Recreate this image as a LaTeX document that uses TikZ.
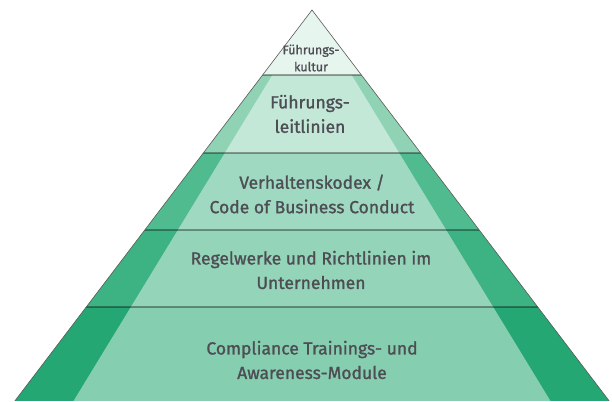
\documentclass[tikz,border=0pt]{standalone}
\usepackage{fontspec}
\setmainfont{Fira Sans}[UprightFeatures={FakeBold=1.2}]

\begin{document}
\begin{tikzpicture}[x=1pt,y=1pt,yscale=-1,xscale=1,
	lbl/.style={color={rgb, 255:red, 77; green, 77; blue, 84 }, align=center, font=\fontsize{17.5}{24.5}\selectfont},
	lblsmall/.style={color={rgb, 255:red, 77; green, 77; blue, 84 }, align=center, font=\fontsize{12.5}{17}\selectfont},
	sepline/.style={draw=black, draw opacity=0.35, line width=1.1pt},
	edgeline/.style={draw={rgb, 255:red, 90; green, 90; blue, 90 }, line width=0.6pt}]
	%set diagram left start at 0 and height of 401
	\useasboundingbox (0,0) rectangle (612,401);
	
	% outer pyramid, dark side bands
	\begin{scope}
		\clip (312,10) -- (14.8,401) -- (609.2,401) -- cycle;
		\fill [color={rgb, 255:red, 230; green, 245; blue, 238 }] (0,0) rectangle (612,75);
		\fill [color={rgb, 255:red, 143; green, 210; blue, 180 }] (0,75) rectangle (612,153);
		\fill [color={rgb, 255:red, 80; green, 187; blue, 143 }] (0,153) rectangle (612,230);
		\fill [color={rgb, 255:red, 61; green, 178; blue, 131 }] (0,230) rectangle (612,307);
		\fill [color={rgb, 255:red, 37; green, 167; blue, 116 }] (0,307) rectangle (612,401);
	\end{scope}
	
	% inner pyramid, light centre
	\begin{scope}
		\clip (312,10) -- (73.5,401) -- (550.5,401) -- cycle;
		\fill [color={rgb, 255:red, 230; green, 245; blue, 238 }] (0,0) rectangle (612,75);
		\fill [color={rgb, 255:red, 195; green, 232; blue, 216 }] (0,75) rectangle (612,153);
		\fill [color={rgb, 255:red, 160; green, 217; blue, 194 }] (0,153) rectangle (612,230);
		\fill [color={rgb, 255:red, 148; green, 212; blue, 185 }] (0,230) rectangle (612,307);
		\fill [color={rgb, 255:red, 134; green, 206; blue, 176 }] (0,307) rectangle (612,401);
	\end{scope}
	
	% layer borders
	\begin{scope}
		\clip (312,10) -- (14.8,401) -- (609.2,401) -- cycle;
		\draw [sepline] (0,75) -- (612,75) ;
		\draw [sepline] (0,153) -- (612,153) ;
		\draw [sepline] (0,230) -- (612,230) ;
		\draw [sepline] (0,307) -- (612,307) ;
	\end{scope}
	\draw [edgeline] (14.8,401) -- (312,10) -- (609.2,401) ;
	
	
	\node [lblsmall] (kultur) at (311,58) {Führungs-\\kultur};
	\node [lbl] (leitlinien) at (310,114) {Führungs-\\leitlinien};
	\node [lbl] (kodex) at (312,194) {Verhaltenskodex /\\Code of Business Conduct};
	\node [lbl] (regelwerke) at (311,270) {Regelwerke und Richtlinien im\\Unternehmen};
	\node [lbl] (trainings) at (312,360) {Compliance Trainings- und\\Awareness-Module};
	
\end{tikzpicture}
\end{document}
